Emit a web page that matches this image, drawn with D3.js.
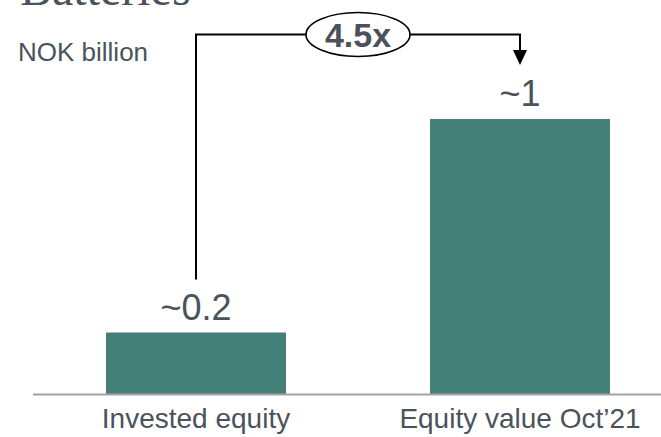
<!DOCTYPE html>
<html>
<head>
<meta charset="utf-8">
<script src="https://cdn.jsdelivr.net/npm/d3@7"></script>
<style>
  html, body { margin: 0; padding: 0; background: #fff; }
  svg { display: block; }
</style>
</head>
<body>
<svg id="chart" width="661" height="437"></svg>
<script>
// ---- data ----
const categories = ["Invested equity", "Equity value Oct\u201921"];
const values = [0.225, 1.0];
const valueLabels = ["~0.2", "~1"];
const multipleLabel = "4.5x";
const unitLabel = "NOK billion";
const titleText = "Batteries";

// ---- layout ----
const W = 661, H = 437;
const baseY = 394.5;
const svg = d3.select("#chart");
const textColor = "#4a535c";
const barColor = "#447f78";

const x = d3.scaleBand().domain(categories).range([34, 682]).paddingInner(0.4444).paddingOuter(0.2222);
const y = d3.scaleLinear().domain([0, 1]).range([baseY, 119]);

// title (cut off at top, as in the reference)
svg.append("text").attr("x", 20).attr("y", 5)
  .attr("font-family", "Liberation Serif, serif").attr("font-size", 48)
  .attr("fill", textColor).text(titleText);

// unit label
svg.append("text").attr("x", 18).attr("y", 61)
  .attr("font-family", "Liberation Sans, Arial, sans-serif").attr("font-size", 26)
  .attr("fill", textColor).text(unitLabel);

// bars
svg.selectAll("rect.bar").data(values).enter().append("rect")
  .attr("class", "bar")
  .attr("x", (d, i) => x(categories[i]))
  .attr("y", d => y(d))
  .attr("width", x.bandwidth())
  .attr("height", d => y(0) - y(d))
  .attr("fill", barColor);

// baseline axis
const axis = d3.axisBottom(x).tickSize(0).tickPadding(14);
const gAxis = svg.append("g").attr("transform", `translate(0,${baseY})`).call(axis);
gAxis.select(".domain").remove();
gAxis.append("line").attr("x1", 33).attr("x2", W).attr("y1", 0).attr("y2", 0)
  .attr("stroke", "#a3a3a3").attr("stroke-width", 2);
gAxis.selectAll(".tick text")
  .attr("font-family", "Liberation Sans, Arial, sans-serif").attr("font-size", 28)
  .attr("fill", textColor).attr("dy", "0.71em");

// value labels
svg.selectAll("text.val").data(values).enter().append("text")
  .attr("class", "val")
  .attr("x", (d, i) => x(categories[i]) + x.bandwidth() / 2)
  .attr("y", d => y(d) - 13)
  .attr("text-anchor", "middle")
  .attr("font-family", "Liberation Sans, Arial, sans-serif").attr("font-size", 36)
  .attr("fill", textColor)
  .text((d, i) => valueLabels[i]);

// connector with ellipse and arrow
const cx0 = x(categories[0]) + x.bandwidth() / 2;
const cx1 = x(categories[1]) + x.bandwidth() / 2;
const topY = 34.5;
const startY = y(values[0]) - 53;
const tipY = y(values[1]) - 54;
const ex = 358, erx = 52, ery = 22;

svg.append("path")
  .attr("d", `M${cx0},${startY} V${topY} H${ex - erx}`)
  .attr("fill", "none").attr("stroke", "#000").attr("stroke-width", 2);
svg.append("path")
  .attr("d", `M${ex + erx},${topY} H${cx1} V${tipY - 14}`)
  .attr("fill", "none").attr("stroke", "#000").attr("stroke-width", 2);
svg.append("path")
  .attr("d", `M${cx1 - 7},${tipY - 15} L${cx1 + 7},${tipY - 15} L${cx1},${tipY} Z`)
  .attr("fill", "#000");
svg.append("ellipse").attr("cx", ex).attr("cy", topY).attr("rx", erx).attr("ry", ery)
  .attr("fill", "#fff").attr("stroke", "#000").attr("stroke-width", 1.6);
svg.append("text").attr("x", ex).attr("y", topY + 12.5)
  .attr("text-anchor", "middle")
  .attr("font-family", "Liberation Sans, Arial, sans-serif").attr("font-size", 34)
  .attr("font-weight", "bold").attr("fill", textColor).text(multipleLabel);
</script>
</body>
</html>
